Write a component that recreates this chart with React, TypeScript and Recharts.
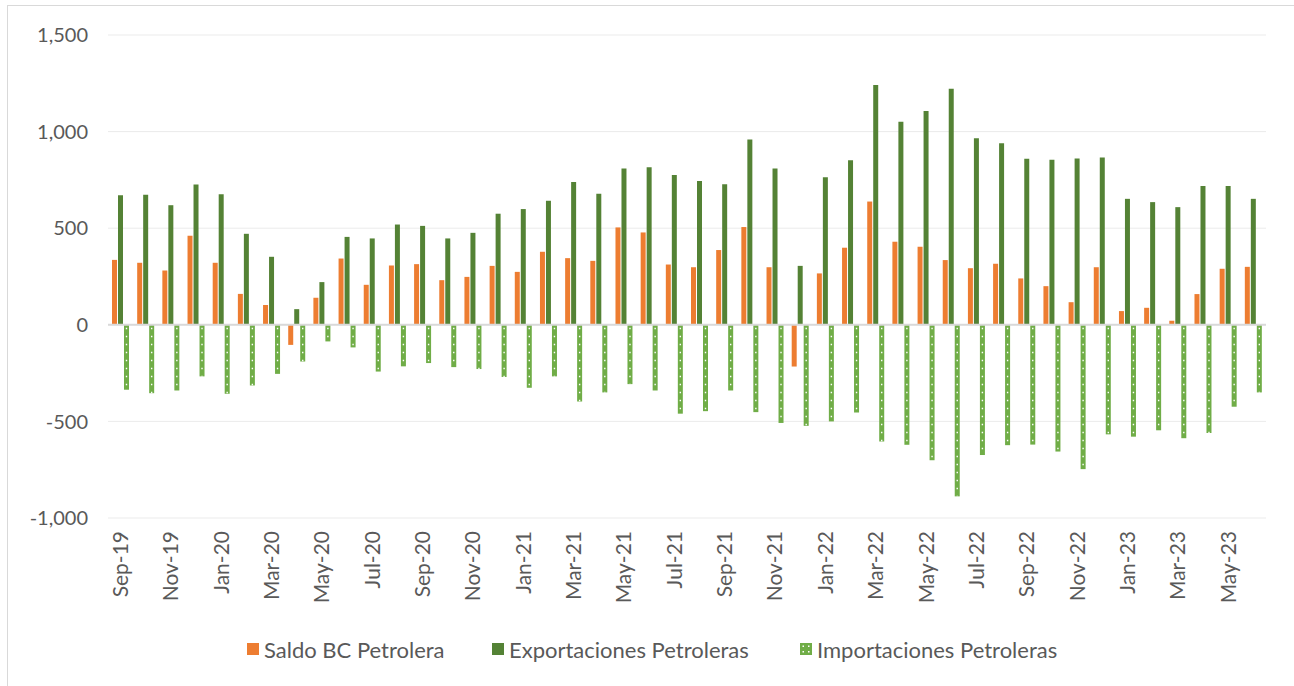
import React from "react"
import { BarChart, Bar, XAxis, YAxis, CartesianGrid, ReferenceLine } from "recharts"

// months Sep-19 .. Jun-23
const months = [
  "Sep-19", "Oct-19", "Nov-19", "Dec-19",
  "Jan-20", "Feb-20", "Mar-20", "Apr-20", "May-20", "Jun-20", "Jul-20", "Aug-20", "Sep-20", "Oct-20", "Nov-20", "Dec-20",
  "Jan-21", "Feb-21", "Mar-21", "Apr-21", "May-21", "Jun-21", "Jul-21", "Aug-21", "Sep-21", "Oct-21", "Nov-21", "Dec-21",
  "Jan-22", "Feb-22", "Mar-22", "Apr-22", "May-22", "Jun-22", "Jul-22", "Aug-22", "Sep-22", "Oct-22", "Nov-22", "Dec-22",
  "Jan-23", "Feb-23", "Mar-23", "Apr-23", "May-23", "Jun-23",
]

const saldo = [
  336, 321, 281, 461, 321, 160, 102, -104, 140, 343,
  207, 307, 314, 231, 248, 305, 274, 378, 345, 331,
  504, 478, 312, 298, 387, 506, 298, -216, 266, 399,
  638, 430, 404, 335, 293, 316, 240, 200, 117, 298,
  71, 88, 21, 159, 290, 300,
]

const exportaciones = [
  671, 673, 619, 726, 676, 471, 352, 81, 221, 455,
  447, 519, 512, 447, 476, 575, 599, 642, 739, 678,
  809, 816, 775, 744, 728, 959, 809, 305, 764, 852,
  1241, 1051, 1106, 1222, 966, 940, 859, 854, 861, 866,
  652, 635, 609, 718, 718, 652,
]

const importaciones = [
  -336, -354, -340, -267, -357, -314, -254, -190, -86, -117,
  -242, -215, -198, -219, -229, -270, -326, -267, -397, -350,
  -307, -340, -460, -447, -340, -452, -508, -523, -500, -454,
  -604, -621, -701, -888, -674, -623, -620, -656, -747, -567,
  -579, -546, -587, -560, -424, -350,
]

const yTicks = [-1000, -500, 0, 500, 1000, 1500]

const data = months.map((m, i) => ({
  month: m,
  saldo: saldo[i],
  exportaciones: exportaciones[i],
  importaciones: importaciones[i],
}))

const ORANGE = "#ED7D31"
const DARK_GREEN = "#548235"
const LIGHT_GREEN = "#70AD47"
const TEXT = "#595959"

const fmt = (v: number) => v.toLocaleString("en-US")

// dotted pattern bar for imports
const DottedBar = (props: any) => {
  const { x, y, width, height } = props
  if (!height) return null
  const top = Math.min(y, y + height)
  const h = Math.abs(height)
  const cx = x + width / 2
  return (
    <g>
      <rect x={x} y={top} width={width} height={h} fill={LIGHT_GREEN} />
      <line x1={cx} x2={cx} y1={top + 3} y2={top + h} stroke="#fff" strokeWidth={1.4} strokeDasharray="1.4 6.6" />
    </g>
  )
}

const MonthTick = (props: any) => {
  const { x, y, payload } = props
  return (
    <g transform={`translate(${x},${y + 5})`}>
      <text x={0} y={0} dy="0.35em" transform="rotate(-90)" textAnchor="end" fill={TEXT} fontSize={21}>
        {payload.value}
      </text>
    </g>
  )
}

const legendItems = [
  { name: "Saldo BC Petrolera", color: ORANGE, width: 245 },
  { name: "Exportaciones Petroleras", color: DARK_GREEN, width: 308 },
  { name: "Importaciones Petroleras", color: LIGHT_GREEN, width: 280, dotted: true },
]

const ChartLegend = () => (
  <div style={{ position: "absolute", left: 247, top: 636, display: "flex", alignItems: "center", height: 26 }}>
    {legendItems.map((it) => (
      <div key={it.name} style={{ display: "flex", alignItems: "center", width: it.width }}>
        <svg width={12} height={12} style={{ marginRight: 5 }}>
          <rect x={0} y={0} width={12} height={12} fill={it.color} />
          {it.dotted && (
            <g fill="#fff">
              <rect x={2.5} y={2.5} width={1.5} height={1.5} />
              <rect x={8} y={2.5} width={1.5} height={1.5} />
              <rect x={2.5} y={8} width={1.5} height={1.5} />
              <rect x={8} y={8} width={1.5} height={1.5} />
            </g>
          )}
        </svg>
        <span style={{ color: TEXT, fontSize: 22 }}>{it.name}</span>
      </div>
    ))}
  </div>
)

export default function App() {
  return (
    <div
      style={{
        width: 1294,
        height: 686,
        overflow: "hidden",
        position: "relative",
        background: "#fff",
        fontFamily: "Lato, 'Open Sans', sans-serif",
      }}
    >
      <style>{`body{margin:0}`}</style>
      <div
        style={{
          position: "absolute",
          left: 7,
          top: 5,
          width: 1300,
          height: 700,
          border: "1px solid #D9D9D9",
        }}
      >
        <BarChart
          width={1290}
          height={690}
          data={data}
          margin={{ top: 29, right: 32, left: 0, bottom: 78 }}
          barSize={5}
          barGap={1}
        >
          <CartesianGrid vertical={false} stroke="#EBEBEB" strokeWidth={1} />
          <XAxis
            dataKey="month"
            interval={1}
            tickLine={false}
            axisLine={false}
            height={100}
            tick={<MonthTick />}
          />
          <YAxis
            domain={[-1000, 1500]}
            ticks={yTicks}
            tickFormatter={fmt}
            tickLine={false}
            axisLine={false}
            width={100}
            tickMargin={14}
            tick={{ fill: TEXT, fontSize: 20 }}
          />
          <ReferenceLine y={0} stroke="#D9D9D9" strokeWidth={2} />
          <Bar dataKey="saldo" name="Saldo BC Petrolera" fill={ORANGE} isAnimationActive={false} />
          <Bar dataKey="exportaciones" name="Exportaciones Petroleras" fill={DARK_GREEN} isAnimationActive={false} />
          <Bar
            dataKey="importaciones"
            name="Importaciones Petroleras"
            fill={LIGHT_GREEN}
            shape={<DottedBar />}
            isAnimationActive={false}
          />
        </BarChart>
      </div>
      <ChartLegend />
    </div>
  )
}
